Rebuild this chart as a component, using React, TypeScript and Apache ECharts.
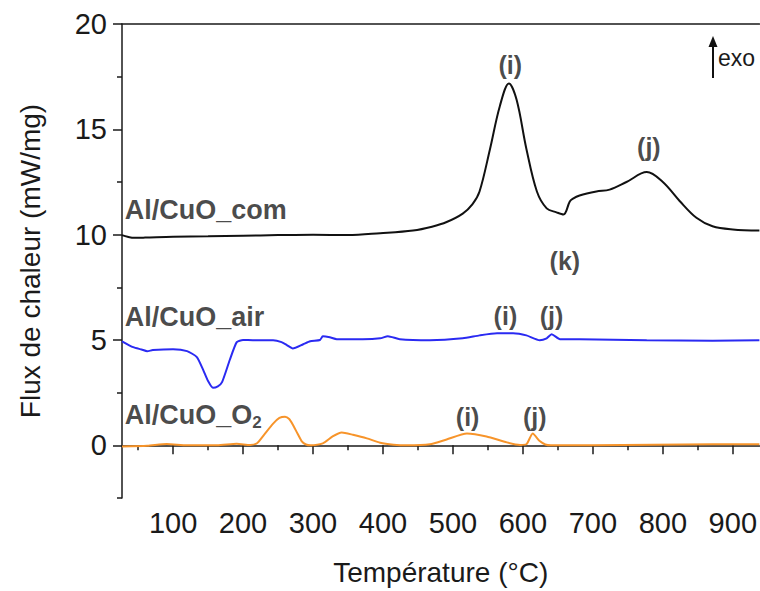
import React, { useEffect, useRef } from "react";
import * as echarts from "echarts";

// Al/CuO_com (black)
const comT = [27, 35, 45, 60, 100, 150, 200, 250, 300, 350, 396, 443, 470, 491, 514, 528, 538, 553, 567, 580, 591, 605, 620, 634, 648, 658, 667, 671, 681, 705, 724, 748, 777, 800, 824, 848, 871, 900, 938];
const comY = [9.98, 9.9, 9.85, 9.86, 9.9, 9.92, 9.95, 9.98, 10.0, 9.98, 10.07, 10.2, 10.38, 10.6, 11.0, 11.45, 12.05, 14.07, 16.1, 17.18, 16.4, 14.07, 12.05, 11.25, 11.06, 10.96, 11.58, 11.7, 11.86, 12.05, 12.14, 12.5, 12.97, 12.5, 11.6, 10.8, 10.4, 10.25, 10.2];

// Al/CuO_air (blue)
const airT = [27, 43, 55, 63, 71, 100, 120, 134, 143, 150, 157, 164, 170, 181, 191, 200, 214, 243, 255, 263, 271, 286, 296, 310, 314, 324, 334, 371, 396, 407, 424, 467, 514, 538, 563, 586, 605, 624, 634, 641, 653, 681, 777, 871, 938];
const airY = [4.94, 4.66, 4.55, 4.47, 4.52, 4.56, 4.47, 4.19, 3.58, 3.05, 2.73, 2.8, 3.0, 4.05, 4.9, 5.0, 4.99, 4.99, 4.9, 4.75, 4.6, 4.8, 4.94, 5.0, 5.18, 5.13, 5.04, 5.04, 5.08, 5.18, 5.04, 4.99, 5.08, 5.22, 5.32, 5.32, 5.22, 4.99, 5.08, 5.27, 5.04, 5.03, 4.99, 4.97, 4.99];

// Al/CuO_O2 (orange)
const o2T = [27, 63, 91, 120, 163, 191, 210, 220, 230, 243, 252, 260, 266, 271, 278, 284, 290, 296, 314, 328, 341, 357, 377, 396, 415, 434, 467, 491, 520, 548, 577, 596, 605, 614, 624, 632, 640, 700, 871, 938];
const o2Y = [-0.05, -0.02, 0.06, 0.0, 0.0, 0.07, 0.02, 0.1, 0.5, 1.03, 1.3, 1.36, 1.25, 0.99, 0.55, 0.19, 0.04, 0.0, 0.09, 0.42, 0.61, 0.5, 0.33, 0.12, 0.03, 0.0, 0.05, 0.28, 0.56, 0.42, 0.14, 0.02, 0.05, 0.56, 0.2, 0.04, 0.0, 0.0, 0.05, 0.05];

// Tick values
const xMajorTicks = [100, 200, 300, 400, 500, 600, 700, 800, 900];
const xMinorTicks = [50, 150, 250, 350, 450, 550, 650, 750, 850];
const yMajorTicks = [0, 5, 10, 15, 20];
const yMinorTicks = [-2.5, 2.5, 7.5, 12.5, 17.5];

// Annotations: [T, value, text]
const peakLabels: [number, number, string][] = [
  [582, 18.07, "(i)"],
  [780, 14.16, "(j)"],
  [660, 8.75, "(k)"],
  [575, 6.12, "(i)"],
  [641, 6.16, "(j)"],
  [521, 1.36, "(i)"],
  [617, 1.36, "(j)"],
];
const seriesLabels: [number, number, string][] = [
  [31, 11.15, "{a|Al/CuO_com}"],
  [31, 6.07, "{a|Al/CuO_air}"],
  [31, 1.46, "{a|Al/CuO_O}{s|2}"],
];

const FONT = "'Liberation Sans', Arial, Helvetica, sans-serif";
const AXC = "#1a1a1a";

export default function App() {
  const ref = useRef<HTMLDivElement>(null);
  useEffect(() => {
    if (!ref.current) return;
    const chart = echarts.init(ref.current, null, { renderer: "svg" });
    const zip = (a: number[], b: number[]) => a.map((v, i) => [v, b[i]]);
    const xBase = { min: 27, max: 938, type: "value" as const, gridIndex: 0 };
    const yBase = { min: -2.5, max: 20, type: "value" as const, gridIndex: 0 };
    chart.setOption({
      animation: false,
      backgroundColor: "#fff",
      textStyle: { fontFamily: FONT },
      grid: { left: 122, right: 0, top: 24, bottom: 89, containLabel: false },
      xAxis: [
        {
          ...xBase,
          position: "bottom",
          name: "Température (°C)",
          nameLocation: "middle",
          nameGap: 60,
          nameTextStyle: { fontSize: 28, color: AXC, fontFamily: FONT },
          axisLine: { show: true, lineStyle: { color: AXC, width: 1.5 } },
          axisTick: { show: true, inside: false, length: 9, customValues: xMajorTicks, lineStyle: { color: AXC, width: 1.5 } },
          axisLabel: { show: true, margin: 10, fontSize: 29, color: AXC, fontFamily: FONT, customValues: xMajorTicks },
          splitLine: { show: false },
        },
        {
          ...xBase,
          position: "bottom",
          axisLine: { show: false },
          axisTick: { show: true, inside: false, length: 5, customValues: xMinorTicks, lineStyle: { color: AXC, width: 1.5 } },
          axisLabel: { show: false },
          splitLine: { show: false },
        },
        {
          ...xBase,
          position: "top",
          axisLine: { show: true, lineStyle: { color: AXC, width: 1.5 } },
          axisTick: { show: false },
          axisLabel: { show: false },
          splitLine: { show: false },
        },
      ],
      yAxis: [
        {
          ...yBase,
          position: "left",
          name: "Flux de chaleur (mW/mg)",
          nameLocation: "middle",
          nameGap: 78,
          nameTextStyle: { fontSize: 28, color: AXC, fontFamily: FONT },
          axisLine: { show: true, lineStyle: { color: AXC, width: 1.5 } },
          axisTick: { show: true, inside: false, length: 9, customValues: yMajorTicks, lineStyle: { color: AXC, width: 1.5 } },
          axisLabel: { show: true, margin: 15, fontSize: 29, color: AXC, fontFamily: FONT, customValues: yMajorTicks },
          splitLine: { show: false },
        },
        {
          ...yBase,
          position: "left",
          axisLine: { show: false },
          axisTick: { show: true, inside: false, length: 5, customValues: yMinorTicks, lineStyle: { color: AXC, width: 1.5 } },
          axisLabel: { show: false },
          splitLine: { show: false },
        },
      ],
      series: [
        {
          name: "Al/CuO_com",
          type: "line",
          data: zip(comT, comY),
          smooth: 0.35,
          showSymbol: false,
          lineStyle: { color: "#111", width: 2 },
        },
        {
          name: "Al/CuO_air",
          type: "line",
          data: zip(airT, airY),
          smooth: 0.2,
          showSymbol: false,
          lineStyle: { color: "#2a2af2", width: 2 },
        },
        {
          name: "Al/CuO_O2",
          type: "line",
          data: zip(o2T, o2Y),
          smooth: 0.2,
          showSymbol: false,
          lineStyle: { color: "#f7942a", width: 2 },
        },
        {
          name: "peaks",
          type: "scatter",
          symbolSize: 1,
          itemStyle: { color: "rgba(0,0,0,0)" },
          silent: true,
          data: peakLabels.map((p) => ({ value: [p[0], p[1]], name: p[2] })),
          label: {
            show: true,
            position: "inside",
            formatter: (p: any) => p.name,
            fontSize: 25,
            fontWeight: "bold",
            color: "#1a1a1a",
            fontFamily: FONT,
          },
        },
        {
          name: "names",
          type: "scatter",
          symbolSize: 1,
          itemStyle: { color: "rgba(0,0,0,0)" },
          silent: true,
          data: seriesLabels.map((p) => ({ value: [p[0], p[1]], name: p[2] })),
          label: {
            show: true,
            position: "inside",
            align: "left",
            formatter: (p: any) => p.name,
            color: "#1a1a1a",
            rich: {
              a: { fontSize: 27, fontWeight: "bold", color: "#1a1a1a", fontFamily: FONT },
              s: { fontSize: 17, fontWeight: "bold", color: "#1a1a1a", fontFamily: FONT, padding: [15, 0, 0, 0] },
            },
          },
        },
      ],
      graphic: [
        {
          type: "line",
          shape: { x1: 713, y1: 78, x2: 713, y2: 44 },
          style: { stroke: "#111", lineWidth: 2 },
        },
        {
          type: "polygon",
          shape: { points: [[708.5, 47], [713, 36], [717.5, 47]] },
          style: { fill: "#111" },
        },
        {
          type: "text",
          x: 718,
          y: 58,
          style: { text: "exo", fill: "#1a1a1a", font: `23px ${FONT}`, textVerticalAlign: "middle" },
        },
      ],
    });
    return () => chart.dispose();
  }, []);
  return <div ref={ref} style={{ position: "absolute", left: 0, top: 0, width: 760, height: 591 }} />;
}
